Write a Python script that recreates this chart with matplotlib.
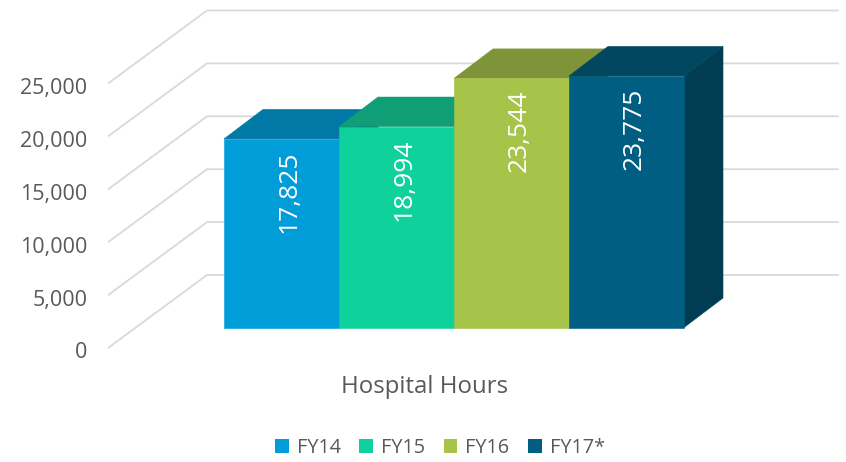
import matplotlib
matplotlib.use("Agg")
import matplotlib.pyplot as plt
from matplotlib.patches import Patch, Polygon
from matplotlib.transforms import ScaledTranslation

# dados
years = ["FY14", "FY15", "FY16", "FY17*"]
hours = [17825, 18994, 23544, 23775]
labels = ["17,825", "18,994", "23,544", "23,775"]
y_ticks = [0, 5000, 10000, 15000, 20000, 25000]
y_tick_labels = ["0", "5,000", "10,000", "15,000", "20,000", "25,000"]
category = "Hospital Hours"

front_colors = ["#009DD9", "#0FD19B", "#A6C34A", "#005E83"]
top_colors = ["#0079A6", "#0F9E76", "#7E9438", "#00475F"]
side_colors = ["#006080", "#0B7F5F", "#66782D", "#003D52"]
grid_color = "#D9D9D9"
text_color = "#595959"

W, H = 846, 462
px_per_val = 0.01058   # pixels por unidade do eixo y
bar_px = 115           # largura de uma barra, em pixels

plt.rcParams["font.family"] = ["Open Sans", "DejaVu Sans"]
fig = plt.figure(figsize=(W / 100, H / 100), dpi=100)
ax_left = 108
ax = fig.add_axes([ax_left / W, 0, (W - ax_left) / W, 1])

# x em larguras de barra (0 = canto esquerdo da primeira barra)
ax.set_xlim((ax_left - 224) / bar_px, (W - 224) / bar_px)
ax.set_ylim(-(H - 348) / px_per_val, 348 / px_per_val)

# deslocamento da parede do fundo e profundidade das barras
wall_dx = 99 / bar_px
wall_dy = 73 / px_per_val
bar_dx = 39 / bar_px
bar_dy = 29.5 / px_per_val
base = 20.5 / px_per_val
x0 = (ax_left - 224) / bar_px
x_end = (838 - 224) / bar_px

for t in y_ticks:
    ax.plot([x0, x0 + wall_dx, x_end], [t, t + wall_dy, t + wall_dy],
            color=grid_color, lw=1.3, solid_joinstyle="miter", zorder=1)

for i, (v, lab) in enumerate(zip(hours, labels)):
    top = base + v
    front = [(i, base), (i + 1, base), (i + 1, top), (i, top)]
    roof = [(i, top), (i + 1, top), (i + 1 + bar_dx, top + bar_dy), (i + bar_dx, top + bar_dy)]
    side = [(i + 1, base), (i + 1 + bar_dx, base + bar_dy), (i + 1 + bar_dx, top + bar_dy), (i + 1, top)]
    z = 2 + i
    ax.add_patch(Polygon(side, closed=True, fc=side_colors[i], ec=side_colors[i], lw=0.4, zorder=z))
    ax.add_patch(Polygon(roof, closed=True, fc=top_colors[i], ec=top_colors[i], lw=0.4, zorder=z))
    ax.add_patch(Polygon(front, closed=True, fc=front_colors[i], ec=front_colors[i], lw=0.4, zorder=z))
    ax.text(i + 0.57, top - 5000, lab, rotation=90, color="white", fontsize=19,
            ha="center", va="center", zorder=10)

ax.set_yticks(y_ticks)
ax.set_yticklabels(y_tick_labels)
ax.tick_params(axis="y", length=0, pad=15, labelsize=15.5, labelcolor=text_color)
shift = ScaledTranslation(0, -2.5 / 72 * 0.72, fig.dpi_scale_trans)
for tl in ax.get_yticklabels():
    tl.set_transform(tl.get_transform() + shift)
ax.set_xticks([])
for s in ax.spines.values():
    s.set_visible(False)
ax.patch.set_visible(False)

ax.text(1.74, -3650, category, color=text_color, fontsize=17.3, ha="center", va="center")

handles = [Patch(fc=c, ec="none") for c in front_colors]
fig.legend(handles, years, ncol=4, loc="center", bbox_to_anchor=(440 / W, 1 - 448 / H),
           frameon=False, fontsize=14.3, labelcolor=text_color, handlelength=0.68,
           handleheight=0.68, handletextpad=0.4, columnspacing=0.95,
           borderpad=0, borderaxespad=0)

fig.savefig("out.png", dpi=100)
